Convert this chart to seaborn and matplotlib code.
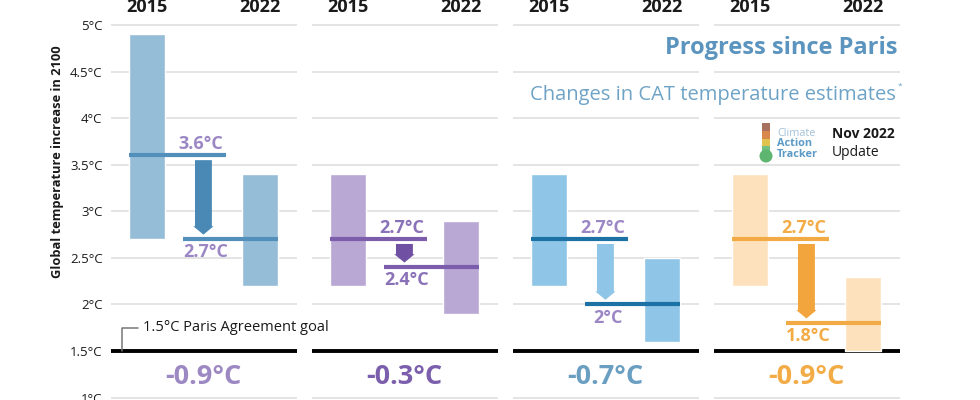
import numpy as np
import matplotlib
matplotlib.use("Agg")
import matplotlib.pyplot as plt
import seaborn as sns
from matplotlib.patches import Rectangle, Circle

sns.set_theme(style="white")
plt.rcParams['font.family'] = ['Open Sans', 'DejaVu Sans']

# data
years = ["2015", "2022"]
low_2015 = [2.7, 2.2, 2.2, 2.2]
high_2015 = [4.9, 3.4, 3.4, 3.4]
low_2022 = [2.2, 1.9, 1.6, 1.5]
high_2022 = [3.4, 2.9, 2.5, 2.3]
est_2015 = [3.6, 2.7, 2.7, 2.7]
est_2022 = [2.7, 2.4, 2.0, 1.8]
change = ["-0.9°C", "-0.3°C", "-0.7°C", "-0.9°C"]
yticks = [1, 1.5, 2, 2.5, 3, 3.5, 4, 4.5, 5]
ytick_labels = ["1°C", "1.5°C", "2°C", "2.5°C", "3°C", "3.5°C", "4°C", "4.5°C", "5°C"]
grid_vals = [1, 2, 2.5, 3, 3.5, 4, 4.5, 5]
paris_goal = 1.5

# colours per panel
bar_col = ["#96bdd7", "#b9a7d4", "#8fc5e6", "#fde1bd"]
line_col = ["#5290bb", "#7b5dab", "#1c72a5", "#f2aa45"]
arrow_col = ["#4a89b6", "#7050a3", "#8fc6e7", "#f1a53c"]
lab_col = ["#9b87c4", "#8a72b8", "#9b87c4", "#f2ab45"]
chg_col = ["#9c88c3", "#7b5fac", "#6b9fc2", "#f2ab45"]

W, H = 980, 400
fig = plt.figure(figsize=(9.8, 4), dpi=100)

def fx(x):
    return x / W

def fy(y):
    return 1 - y / H

panel_left = [111, 312, 513, 714]
panel_w = 186
bw = 0.32

for i in range(4):
    ax = fig.add_axes([fx(panel_left[i]), 0, panel_w / W, 1])
    ax.set_xlim(-0.32, 1.33)
    ax.set_ylim(0.974, 5.27)
    ax.set_facecolor("none")
    sns.despine(ax=ax, left=True, bottom=True)
    for g in grid_vals:
        ax.axhline(g, color="#e2e2e2", lw=1.3, zorder=0)
    ax.axhline(paris_goal, color="black", lw=2.8, zorder=1)

    # ranges
    ax.bar([0], [high_2015[i] - low_2015[i]], bottom=[low_2015[i]], width=bw,
           color=bar_col[i], zorder=2)
    ax.bar([1], [high_2022[i] - low_2022[i]], bottom=[low_2022[i]], width=bw,
           color=bar_col[i], zorder=2)

    # central estimates
    ax.plot([-bw / 2, 0.70], [est_2015[i]] * 2, color=line_col[i], lw=3, zorder=3,
            solid_capstyle="butt")
    ax.plot([0.32, 1 + bw / 2], [est_2022[i]] * 2, color=line_col[i], lw=3, zorder=3,
            solid_capstyle="butt")

    # arrow between estimates
    top = est_2015[i] - 0.05
    tip = est_2022[i] + 0.05
    head = min(0.09, (top - tip) * 0.6)
    sw = 0.075
    hw = 0.09
    xs = [0.5 - sw, 0.5 + sw, 0.5 + sw, 0.5 + hw, 0.5, 0.5 - hw, 0.5 - sw]
    ys = [top, top, tip + head, tip + head, tip, tip + head, tip + head]
    ax.fill(xs, ys, color=arrow_col[i], zorder=3, lw=0)

    ax.text(0.48, est_2015[i] + 0.12, f"{est_2015[i]:g}°C", ha="center", va="center",
            fontsize=13, fontweight="bold", color=lab_col[i])
    ax.text(0.52, est_2022[i] - 0.14, f"{est_2022[i]:g}°C", ha="center", va="center",
            fontsize=13, fontweight="bold", color=lab_col[i])

    ax.text(0.5, 1.22, change[i], ha="center", va="center", fontsize=19.5,
            fontweight="bold", color=chg_col[i])

    for j, yr in enumerate(years):
        ax.text(j, 5.2, yr, ha="center", va="center", fontsize=13,
                fontweight="bold", color="#1a1a1a")

    ax.set_xticks([])
    if i == 0:
        ax.set_yticks(yticks)
        ax.set_yticklabels(ytick_labels, fontsize=9.5, color="#1a1a1a")
        ax.tick_params(axis="y", length=0, pad=6)
        # Paris goal marker
        ax.plot([-0.22, -0.22, -0.08], [paris_goal, 1.75, 1.75], color="#777777",
                lw=1.1, zorder=3)
        ax.text(-0.04, 1.75, "1.5°C Paris Agreement goal", ha="left", va="center",
                fontsize=10.5, color="#1a1a1a")
    else:
        ax.set_yticks([])

fig.text(fx(58), fy(162), "Global temperature increase in 2100", rotation=90,
         ha="center", va="center", fontsize=9.3, fontweight="bold", color="#1a1a1a")

# header
fig.text(fx(897), fy(48), "Progress since Paris", ha="right", va="center",
         fontsize=17, fontweight="bold", color="#5b95bf")
fig.text(fx(896), fy(95), "Changes in CAT temperature estimates", ha="right",
         va="center", fontsize=14.5, color="#6fa3c6")
fig.text(fx(900), fy(86), "*", ha="center", va="center", fontsize=6, color="#6fa3c6")

# logo
lax = fig.add_axes([0, 0, 1, 1])
lax.set_xlim(0, W)
lax.set_ylim(H, 0)
lax.axis("off")
therm = [("#a8705e", 123, 131), ("#d9884c", 131, 139), ("#e0c24e", 139, 146)]
for c, y0, y1 in therm:
    lax.add_patch(Rectangle((762, y0), 8, y1 - y0, color=c, lw=0))
lax.add_patch(Rectangle((762, 146), 8, 6, color="#74c083", lw=0))
lax.add_patch(Circle((766, 156), 6.5, color="#5db56f", lw=0))
logo_words = ["Climate", "Action", "Tracker"]
logo_cols = ["#a3c1d8", "#5b9ac6", "#5b9ac6"]
for k, (wd, c) in enumerate(zip(logo_words, logo_cols)):
    fig.text(fx(777), fy(132 + 10.5 * k), wd, ha="left", va="center_baseline",
             fontsize=7.8, color=c, fontweight="normal" if k == 0 else "bold")
fig.text(fx(832), fy(134), "Nov 2022", ha="left", va="center", fontsize=10,
         fontweight="bold", color="#1a1a1a")
fig.text(fx(832), fy(152), "Update", ha="left", va="center", fontsize=10, color="#1a1a1a")

fig.savefig("out.png", dpi=100)
